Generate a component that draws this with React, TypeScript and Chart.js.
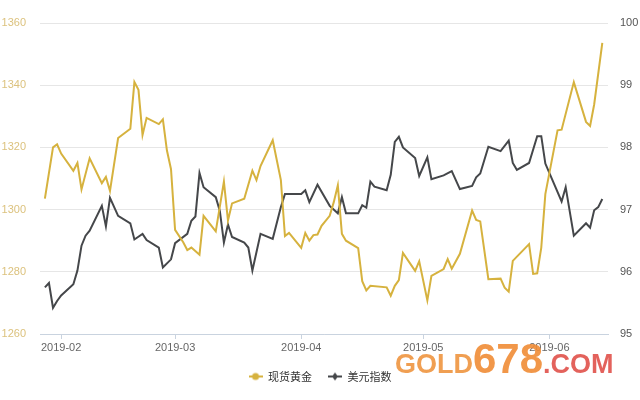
import React, { useEffect, useRef } from 'react';
import { Chart, registerables } from 'chart.js';

Chart.register(...registerables);

// Series names (legend)
const seriesNames = ['现货黄金', '美元指数'];

// X values: day of year 2019 (Jan 1 = 0)
const goldDays = [27, 29, 30, 31, 34, 35, 36, 38, 41, 42, 43, 45, 48, 49, 50, 51, 52, 55, 56, 57, 58, 59, 61, 62, 63, 65, 66, 69, 71, 72, 73, 76, 78, 79, 80, 83, 85, 86, 87, 90, 91, 92, 93, 94, 95, 97, 98, 99, 100, 101, 104, 105, 106, 107, 111, 112, 113, 114, 115, 118, 119, 121, 122, 125, 126, 127, 129, 132, 133, 134, 136, 139, 140, 141, 142, 146, 147, 148, 149, 150, 153, 154, 157, 160, 161, 162, 164];
const goldValues = [1303.5, 1320, 1321, 1318, 1312.5, 1315, 1306.5, 1316.5, 1308.5, 1310.5, 1306, 1323, 1326, 1341, 1338.5, 1324, 1329.5, 1327.5, 1329, 1319, 1313, 1293.5, 1289.5, 1287, 1287.8, 1285.5, 1298, 1293, 1309, 1296.5, 1302, 1303.5, 1312.5, 1309.5, 1314, 1322.3, 1309.5, 1291.5, 1292.5, 1287.7, 1292.5, 1290, 1291.8, 1292, 1294.8, 1298, 1302.4, 1307.8, 1292.2, 1290, 1287.6, 1277, 1274, 1275.5, 1275, 1272.3, 1275.5, 1277.3, 1286.1, 1280.3, 1283.4, 1270.8, 1278.7, 1280.9, 1284.1, 1281, 1285.8, 1299.7, 1296.7, 1296.2, 1277.6, 1277.8, 1274.9, 1273.6, 1283.5, 1288.9, 1279.3, 1279.5, 1287.8, 1305, 1325.5, 1325.7, 1341, 1328.2, 1326.9, 1333.8, 1353.6];

const usdDays = [27, 28, 29, 30, 31, 34, 35, 36, 37, 38, 41, 42, 43, 45, 48, 49, 51, 52, 55, 56, 58, 59, 62, 63, 64, 65, 66, 69, 70, 71, 72, 73, 76, 77, 78, 80, 83, 85, 86, 90, 91, 92, 94, 97, 99, 100, 101, 104, 105, 106, 107, 108, 111, 112, 113, 114, 115, 118, 119, 121, 122, 125, 127, 129, 132, 133, 134, 136, 139, 141, 142, 143, 146, 148, 149, 150, 154, 155, 157, 160, 161, 162, 163, 164];
const usdValues = [95.75, 95.82, 95.42, 95.53, 95.62, 95.8, 96.02, 96.42, 96.58, 96.66, 97.06, 96.73, 97.19, 96.9, 96.78, 96.52, 96.61, 96.51, 96.39, 96.07, 96.2, 96.46, 96.61, 96.82, 96.89, 97.59, 97.36, 97.2, 96.98, 96.47, 96.76, 96.56, 96.47, 96.39, 96.02, 96.61, 96.53, 97.04, 97.25, 97.25, 97.31, 97.12, 97.4, 97.06, 96.94, 97.2, 96.94, 96.94, 97.07, 97.03, 97.45, 97.37, 97.31, 97.56, 98.09, 98.17, 98.0, 97.83, 97.54, 97.84, 97.49, 97.55, 97.62, 97.33, 97.38, 97.52, 97.58, 98.01, 97.94, 98.11, 97.75, 97.64, 97.75, 98.18, 98.18, 97.74, 97.13, 97.36, 96.58, 96.78, 96.71, 96.99, 97.04, 97.17];

// X-axis month ticks
const monthTickDays = [31, 59, 90, 120, 151];
const monthTickLabels = ['2019-02', '2019-03', '2019-04', '2019-05', '2019-06'];

const GOLD = '#d6b23e';
const USD = '#45474a';

function makeMarker(color: string, shape: 'circle' | 'diamond') {
  const c = document.createElement('canvas');
  c.width = 14;
  c.height = 10;
  const ctx = c.getContext('2d')!;
  ctx.strokeStyle = color;
  ctx.lineWidth = 2;
  ctx.beginPath();
  ctx.moveTo(0, 5);
  ctx.lineTo(14, 5);
  ctx.stroke();
  ctx.fillStyle = color;
  ctx.beginPath();
  if (shape === 'circle') {
    ctx.arc(7, 5, 3.5, 0, Math.PI * 2);
  } else {
    ctx.moveTo(7, 1);
    ctx.lineTo(10, 5);
    ctx.lineTo(7, 9);
    ctx.lineTo(4, 5);
    ctx.closePath();
  }
  ctx.fill();
  return c;
}

export default function App() {
  const ref = useRef<HTMLCanvasElement | null>(null);

  useEffect(() => {
    const canvas = ref.current;
    if (!canvas) return;
    const goldMarker = makeMarker(GOLD, 'circle');
    const usdMarker = makeMarker(USD, 'diamond');
    const chart = new Chart(canvas, {
      type: 'line',
      data: {
        datasets: [
          {
            label: seriesNames[0],
            data: goldDays.map((d, i) => ({ x: d, y: goldValues[i] })),
            yAxisID: 'y',
            borderColor: GOLD,
            backgroundColor: GOLD,
            borderWidth: 2,
            pointRadius: 0,
            pointStyle: goldMarker as any,
            tension: 0,
          },
          {
            label: seriesNames[1],
            data: usdDays.map((d, i) => ({ x: d, y: usdValues[i] })),
            yAxisID: 'y1',
            borderColor: USD,
            backgroundColor: USD,
            borderWidth: 2,
            pointRadius: 0,
            pointStyle: usdMarker as any,
            tension: 0,
          },
        ],
      },
      options: {
        animation: false,
        responsive: false,
        maintainAspectRatio: false,
        layout: { padding: { top: 23, bottom: 8, left: 0, right: 0 } },
        plugins: {
          tooltip: { enabled: false },
          legend: {
            position: 'bottom',
            labels: {
              usePointStyle: true,
              pointStyleWidth: 14,
              color: '#333',
              padding: 16,
              font: { size: 11, family: '"Noto Sans CJK SC", sans-serif' },
            },
          },
        },
        scales: {
          x: {
            type: 'linear',
            min: 25.8,
            max: 165.4,
            afterBuildTicks: (scale: any) => {
              scale.ticks = monthTickDays.map((v) => ({ value: v }));
            },
            afterFit: (scale: any) => {
              scale.height = 21;
            },
            ticks: {
              autoSkip: false,
              maxRotation: 0,
              padding: 2,
              color: '#666',
              font: { size: 11, family: '"Liberation Sans", sans-serif' },
              callback: (value: any) => {
                const i = monthTickDays.indexOf(Number(value));
                return i >= 0 ? monthTickLabels[i] : '';
              },
            },
            grid: {
              drawOnChartArea: false,
              tickLength: 5,
              color: '#c9d3df',
            },
            border: { color: '#c9d3df', width: 1 },
          },
          y: {
            position: 'left',
            min: 1260,
            max: 1360,
            afterFit: (scale: any) => {
              scale.width = 40;
            },
            ticks: {
              stepSize: 20,
              padding: 14,
              color: '#dcc27e',
              font: { size: 11, family: '"Liberation Sans", sans-serif' },
              callback: (value: any) => String(value),
            },
            grid: { color: '#e6e6e6', drawTicks: false },
            border: { display: false },
          },
          y1: {
            position: 'right',
            min: 95,
            max: 100,
            afterFit: (scale: any) => {
              scale.width = 32;
            },
            ticks: {
              stepSize: 1,
              padding: 12,
              color: '#555',
              font: { size: 11, family: '"Liberation Sans", sans-serif' },
              callback: (value: any) => String(value),
            },
            grid: { drawOnChartArea: false, drawTicks: false },
            border: { display: false },
          },
        },
      },
    });
    return () => chart.destroy();
  }, []);

  return (
    <div style={{ position: 'fixed', left: 0, top: 0, width: 640, height: 400, background: '#fff' }}>
      <canvas ref={ref} width={640} height={400} style={{ display: 'block' }} />
      <div
        style={{
          position: 'absolute',
          left: 395,
          top: 338,
          display: 'flex',
          alignItems: 'baseline',
          fontFamily: '"Liberation Sans", Arial, sans-serif',
          fontWeight: 'bold',
          lineHeight: 1,
          opacity: 0.9,
          pointerEvents: 'none',
        }}
      >
        <span style={{ fontSize: 27, color: '#ef9540' }}>GOLD</span>
        <span style={{ fontSize: 42, color: '#f08c36' }}>678</span>
        <span style={{ fontSize: 27, color: '#e0524b' }}>.COM</span>
      </div>
    </div>
  );
}
